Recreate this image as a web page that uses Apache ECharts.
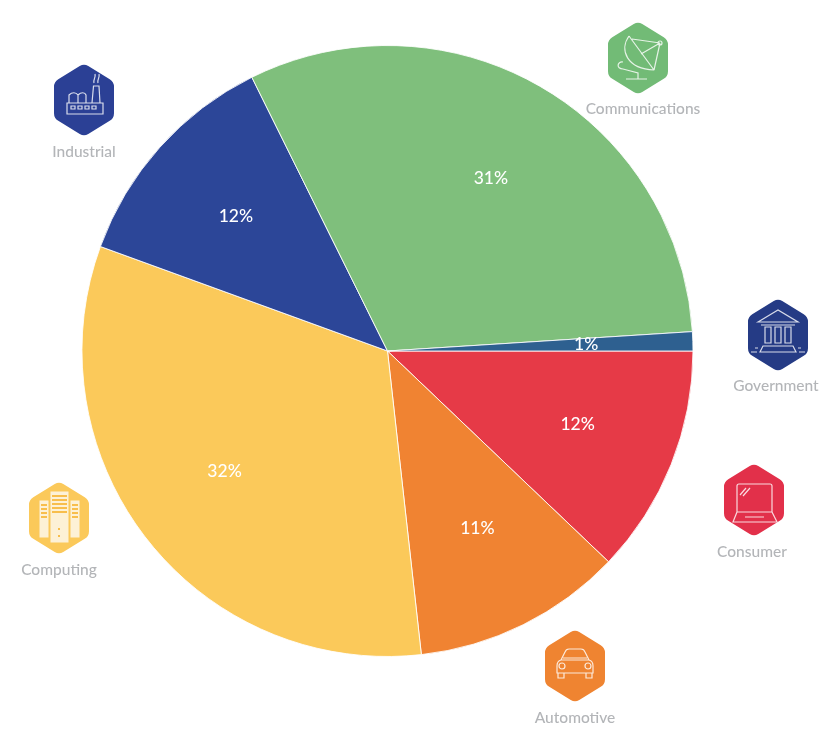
<!DOCTYPE html>
<html>
<head>
<meta charset="utf-8">
<style>
  html, body { margin: 0; padding: 0; background: #ffffff; }
  #chart { width: 839px; height: 750px; }
</style>
<script src="https://cdn.jsdelivr.net/npm/echarts@6/dist/echarts.min.js"></script>
</head>
<body>
<div id="chart"></div>
<script>
// Market share by segment, clockwise from three o'clock
const segments = ['Consumer', 'Automotive', 'Computing', 'Industrial', 'Communications', 'Government'];
const shares = [12, 11, 32, 12, 31, 1];
const sliceColors = ['#E63A47', '#F08332', '#FBC95A', '#2C4698', '#7FBF7C', '#2E6090'];

const FONT = 'Lato, "Open Sans", sans-serif';
const pieCenter = [387.5, 351];
const pieRadius = 305.5;
// A see-through ring whose mid-radius sets how far out the percentages sit
const labelRingInner = 98;
// Small per-label shifts off the slice mid-line
const labelShifts = [[0, -3], [-1, -6], [-2, -6], [1, 2], [1, 5], [-6, 0]];

// Pointy-top hexagon with softened corners, centred on the origin
function hexagonPath(w, h, round) {
  const pts = [[0, -h / 2], [w / 2, -h / 4], [w / 2, h / 4], [0, h / 2], [-w / 2, h / 4], [-w / 2, -h / 4]];
  const n = pts.length;
  let d = '';
  pts.forEach((p, i) => {
    const prev = pts[(i + n - 1) % n];
    const next = pts[(i + 1) % n];
    const toward = (a, b) => {
      const dx = b[0] - a[0], dy = b[1] - a[1], len = Math.hypot(dx, dy);
      return [a[0] + dx / len * round, a[1] + dy / len * round];
    };
    const a = toward(p, prev), b = toward(p, next);
    d += (i ? 'L' : 'M') + a[0] + ' ' + a[1] + 'Q' + p[0] + ' ' + p[1] + ' ' + b[0] + ' ' + b[1];
  });
  return d + 'Z';
}

const circle = (x, y, r) => `M${x - r} ${y}A${r} ${r} 0 1 0 ${x + r} ${y}A${r} ${r} 0 1 0 ${x - r} ${y}Z`;
const box = (x, y, w, h) => `M${x} ${y}H${x + w}V${y + h}H${x}Z`;

// Line drawings for each badge, in coordinates around the badge centre
const icons = {
  Communications:
    'M-9 -22L16 12M-9 -22C-19 -8 -11 11 16 12M-6 -19L22 -15M22 -15L3 -4M22 -15L16 12' +
    circle(22, -15, 2) + 'M-15 4C-21 3 -22 11 -15 11L0 15V21M-12 21H9',
  Industrial:
    box(-17, 3, 36, 11) + box(-13, 6, 4, 3) + box(-6, 6, 4, 3) + box(1, 6, 4, 3) + box(8, 6, 4, 3) +
    'M8 3L9.5 -14H15L16 3M10 -17C9 -21 12 -22 11 -26M14 -17C13 -21 16 -22 15 -26' +
    'M-15 3V-5C-12 -8 -8 -8 -6 -5V3M-6 -5C-3 -8 1 -8 2 -5V3',
  Government:
    'M-20 -13L0 -25L20 -13ZM-17 -10H17' + box(-13, -8, 6, 16) + box(-3, -8, 6, 16) + box(7, -8, 6, 16) +
    'M-15 11H15L18 17H-18ZM-23 13H-20M20 13H23M-27 17H-21M21 17H27',
  Consumer:
    'M-15 -16H16Q18 -16 18 -14V12H-17V-14Q-17 -16 -15 -16ZM-17 12L-21 22H23L18 12M-9 17H10' +
    'M-14 -5L-8 -12M-11 -4L-4 -12',
  Automotive:
    'M-14 -6L-10 -14Q-9 -17 -6 -17H6Q9 -17 10 -14L14 -6M-12 -8H12' +
    'M-14 -6Q-18 -5 -18 0V7H18V0Q18 -5 14 -6ZM-17 7V12H-11V7M11 7V12H17V7' +
    circle(-13, 0, 3) + circle(13, 0, 3)
};
const computingTowers = box(-20, -18, 10, 38) + box(11, -18, 10, 38) + box(-9, -27, 19, 52);
const computingSlots =
  'M-18 -13H-12M-18 -9H-12M-18 -5H-12M-18 -1H-12M13 -13H19M13 -9H19M13 -5H19M13 -1H19' +
  'M-7 -22H8M-7 -18H8M-7 -14H8M-7 -10H8M-7 -6H8M0 10V12M0 17V19';

// Badge colour, badge centre and caption centre per segment
const badges = {
  Consumer:       { color: '#E2304A', at: [754, 500], caption: [752, 552] },
  Automotive:     { color: '#EF8431', at: [575, 666], caption: [575, 718] },
  Computing:      { color: '#FBC95A', at: [59, 518],  caption: [59, 570] },
  Industrial:     { color: '#2B4095', at: [84, 100],  caption: [84, 152] },
  Communications: { color: '#72BB76', at: [638, 58],  caption: [643, 109] },
  Government:     { color: '#253B85', at: [778, 335], caption: [776, 386] }
};

// Graphic elements have no plain path type, so each drawing becomes a named shape
const registerDrawing = (name, d) => echarts.graphic.registerShape(name, echarts.graphic.extendPath(d, {}));
registerDrawing('badgeHexagon', hexagonPath(60, 73, 5));
registerDrawing('computingTowers', computingTowers);
registerDrawing('computingSlots', computingSlots);
Object.keys(icons).forEach(name => registerDrawing('icon' + name, icons[name]));

const graphics = [];
segments.forEach(name => {
  const b = badges[name];
  const children = [{ type: 'badgeHexagon', style: { fill: b.color } }];
  if (name === 'Computing') {
    children.push(
      { type: 'computingTowers', style: { fill: '#FDF1D6', stroke: b.color, lineWidth: 1 } },
      { type: 'computingSlots', style: { fill: 'none', stroke: '#F8BE4C', lineWidth: 2 } }
    );
  } else {
    children.push({
      type: 'icon' + name,
      style: { fill: 'none', stroke: 'rgba(255,255,255,0.82)', lineWidth: 1.2 }
    });
  }
  graphics.push({ type: 'group', x: b.at[0], y: b.at[1], silent: true, children });
  graphics.push({
    type: 'text', x: b.caption[0], y: b.caption[1], silent: true,
    style: {
      text: name, fill: '#B3B5B8', font: '500 15.5px ' + FONT,
      align: 'center', verticalAlign: 'middle'
    }
  });
});

const pieData = segments.map((name, i) => ({
  name, value: shares[i], itemStyle: { color: sliceColors[i] }
}));

const chart = echarts.init(document.getElementById('chart'), null, { renderer: 'canvas' });
chart.setOption({
  animation: false,
  backgroundColor: '#ffffff',
  graphic: { elements: graphics },
  series: [
    {
      type: 'pie',
      center: pieCenter,
      radius: [0, pieRadius],
      startAngle: 0,
      clockwise: true,
      silent: true,
      label: { show: false },
      labelLine: { show: false },
      itemStyle: { borderColor: 'rgba(255,255,255,0.85)', borderWidth: 1 },
      data: pieData
    },
    {
      type: 'pie',
      center: pieCenter,
      radius: [labelRingInner, pieRadius],
      startAngle: 0,
      clockwise: true,
      silent: true,
      itemStyle: { color: 'transparent' },
      labelLine: { show: false },
      label: {
        show: true,
        position: 'inside',
        formatter: '{c}%',
        color: '#ffffff',
        fontFamily: FONT,
        fontSize: 17.5,
        fontWeight: 500,
        textBorderWidth: 0
      },
      labelLayout: params => ({
        dx: labelShifts[params.dataIndex][0],
        dy: labelShifts[params.dataIndex][1]
      }),
      data: segments.map((name, i) => ({ name, value: shares[i] }))
    }
  ]
});
</script>
</body>
</html>
